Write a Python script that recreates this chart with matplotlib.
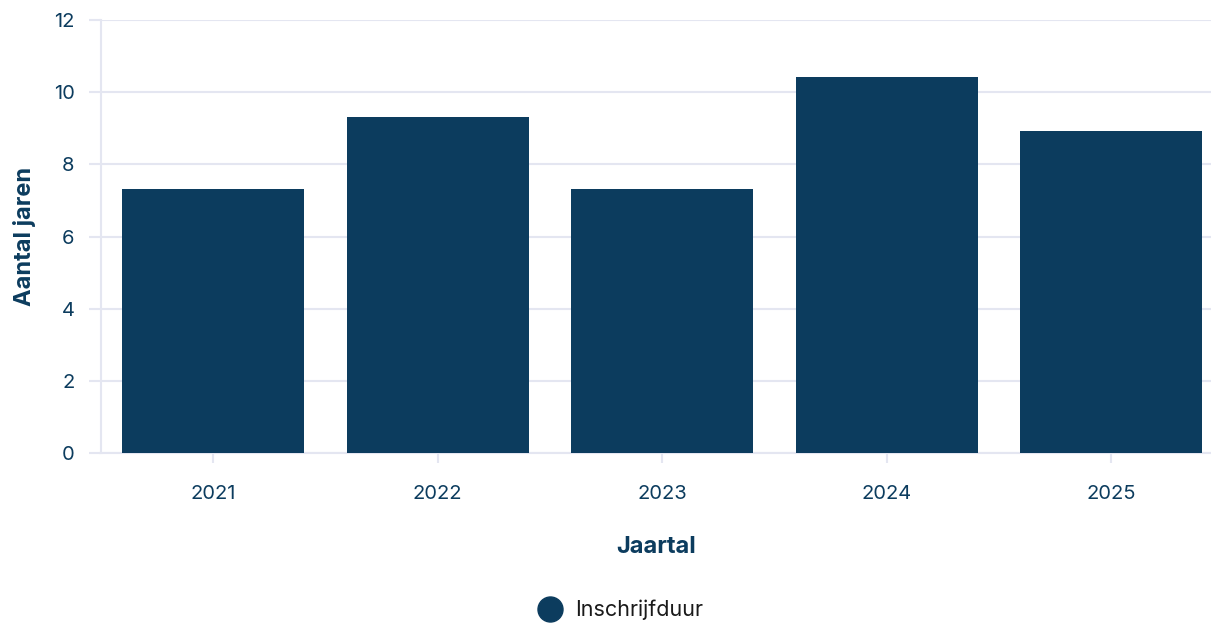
import matplotlib.pyplot as plt
from matplotlib.lines import Line2D

# data
years = ["2021", "2022", "2023", "2024", "2025"]
duur = [7.32, 9.31, 7.32, 10.42, 8.93]
series_name = "Inschrijfduur"

navy = "#0c3c5e"
grid_col = "#e4e6f1"

plt.rcParams["font.family"] = ["Inter", "DejaVu Sans"]

fig = plt.figure(figsize=(12.11, 6.24), dpi=100)
ax = fig.add_axes([101 / 1211, 1 - 453 / 624, 1 - 101 / 1211, 433 / 624])

x = range(len(years))
ax.bar(x, duur, width=0.81, color=navy, zorder=3)

ax.set_ylim(0, 12)
ax.set_yticks([0, 2, 4, 6, 8, 10, 12])
ax.set_xlim(-0.5, -0.5 + 1110 / 224.5)
ax.set_xticks(list(x))
ax.set_xticklabels(years)

ax.grid(axis="y", color=grid_col, linewidth=1.5, zorder=0)
for side in ["top", "right"]:
    ax.spines[side].set_visible(False)
ax.spines["left"].set_color(grid_col)
ax.spines["left"].set_linewidth(1.5)
ax.spines["bottom"].set_color(grid_col)
ax.spines["bottom"].set_linewidth(1.5)

ax.tick_params(axis="y", length=9, width=1.5, color=grid_col, labelcolor=navy,
               labelsize=14.5, pad=10)
ax.tick_params(axis="x", length=7, width=1.5, color=grid_col, labelcolor=navy,
               labelsize=14.5, pad=16)

ax.set_ylabel("Aantal jaren", color=navy, fontsize=17, fontweight="bold", labelpad=13)
ax.set_xlabel("Jaartal", color=navy, fontsize=17, fontweight="bold", labelpad=24)

handle = Line2D([], [], marker="o", linestyle="", markersize=18, color=navy)
fig.legend(handles=[handle], labels=[series_name], loc="center",
           bbox_to_anchor=(616 / 1211, 1 - 610 / 624), frameon=False,
           fontsize=15.5, labelcolor="#1a1a1a", handletextpad=0.15)

fig.savefig("out.png", dpi=100)
